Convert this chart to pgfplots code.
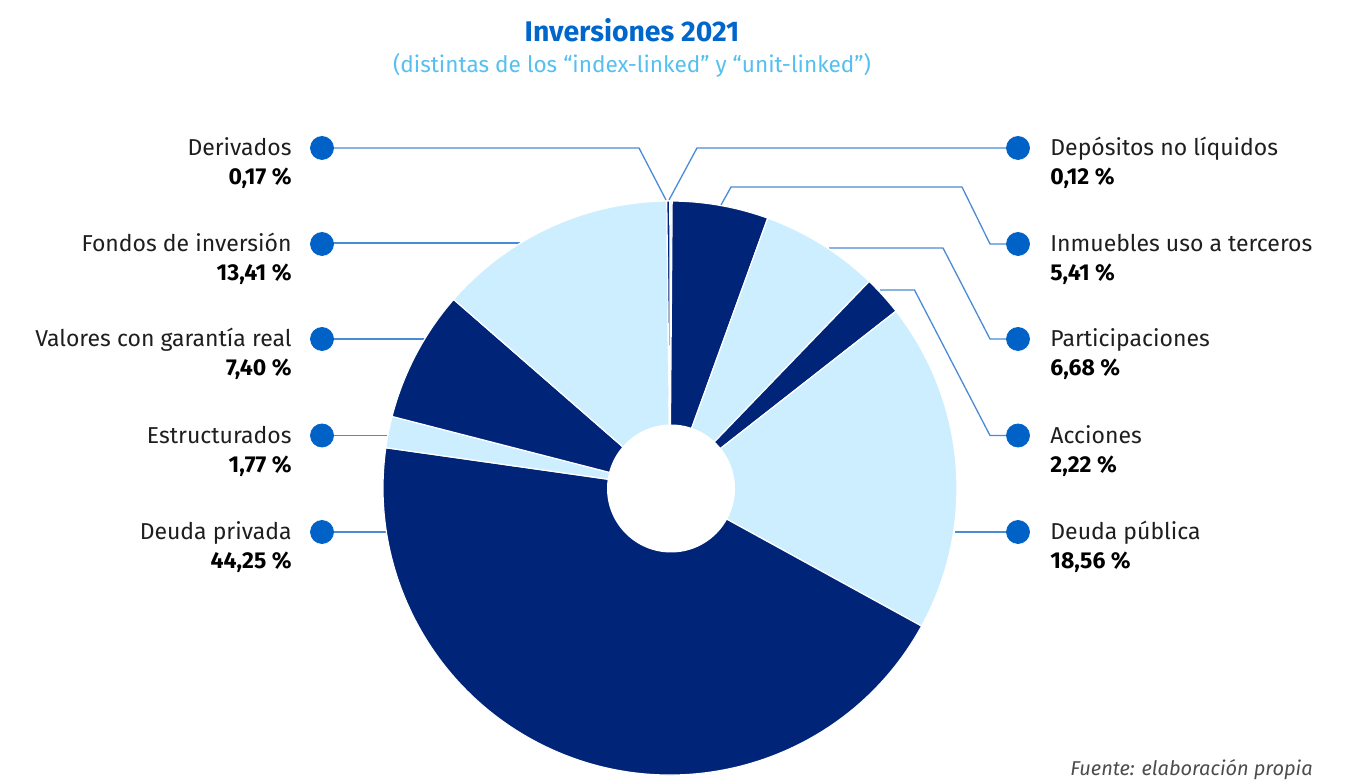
\documentclass[border=0pt]{standalone}
\usepackage{pgfplots}
\pgfplotsset{compat=1.18}
\usepackage{fontspec}
\setmainfont{Fira Sans}
\definecolor{navy}{HTML}{002478}
\definecolor{sky}{HTML}{CCEEFF}
\definecolor{dotblue}{HTML}{0062C6}
\definecolor{leadblue}{HTML}{4A8BD6}
\definecolor{titleblue}{HTML}{0066CC}
\definecolor{subblue}{HTML}{55BFF0}
\definecolor{labgray}{HTML}{1E1E1E}
\newcommand{\lab}{\fontsize{11.5}{14}\selectfont}

\begin{document}
\begin{tikzpicture}
\begin{axis}[x=0.5pt,y=0.5pt,xmin=0,xmax=1348,ymin=0,ymax=781,
  hide axis,clip=false,scale only axis]
\coordinate (BL) at (axis cs:0,0);
\coordinate (TR) at (axis cs:1348,781);

% lead lines
\pgfplotsset{lead/.style={leadblue,line width=0.65pt,sharp plot,no marks,solid}}
\addplot[lead] coordinates {(322,633) (639,633) (666,581)};
\addplot[lead] coordinates {(1018,633) (697,633) (669,581)};
\addplot[lead] coordinates {(1018,537) (990,537) (962,594) (731,594) (721,576)};
\addplot[lead] coordinates {(1018,442) (990,442) (943,533) (829,533)};
\addplot[lead] coordinates {(1018,345.5) (990,345.5) (914.5,491) (880,491)};
\addplot[lead] coordinates {(1018,249) (955,249)};
\addplot[lead] coordinates {(322,538) (520,538)};
\addplot[lead] coordinates {(322,442) (425,442)};
\addplot[lead] coordinates {(322,345.5) (388,345.5)};
\addplot[lead] coordinates {(322,249) (386,249)};

% donut, clockwise from the top
\gdef\cum{0}
\foreach \v/\c in {0.12/sky, 5.41/navy, 6.68/sky, 2.22/navy, 18.56/sky,
                   44.25/navy, 1.77/sky, 7.40/navy, 13.41/sky, 0.17/navy}{
  \pgfmathsetmacro\aone{90-3.6*\cum}
  \pgfmathsetmacro\atwo{90-3.6*(\cum+\v)}
  \pgfmathsetmacro\newcum{\cum+\v}
  \xdef\cum{\newcum}
  \edef\temp{\noexpand\filldraw[fill=\c,draw=white,line width=0.6pt]
    (axis cs:670,293) -- ++(\aone:143.5pt)
    arc[start angle=\aone,end angle=\atwo,radius=143.5pt] -- cycle;}
  \temp
}
\fill[white] (axis cs:671,292.5) circle[radius=32pt];

% dots
\addplot[only marks,mark=*,mark size=5.75pt,draw=none,
  mark options={draw=dotblue,fill=dotblue}] coordinates {
  (322,633) (322,537) (322,442) (322,345.5) (322,249)
  (1018,633) (1018,537) (1018,442) (1018,345.5) (1018,249)};

% labels right
\foreach \y/\n/\p in {633/Depósitos no líquidos/0{,}12,
                      537/Inmuebles uso a terceros/5{,}41,
                      442/Participaciones/6{,}68,
                      345.5/Acciones/2{,}22,
                      249/Deuda pública/18{,}56}{
  \edef\temp{\noexpand\node[anchor=base west,inner sep=0pt,text=labgray,font=\noexpand\lab]
    at (axis cs:1050,\y-8) {\n};
  \noexpand\node[anchor=base west,inner sep=0pt,font=\noexpand\lab\noexpand\bfseries]
    at (axis cs:1050,\y-37) {\p\space\noexpand\%};}
  \temp
}
% labels left
\foreach \y/\n/\p in {633/Derivados/0{,}17,
                      537/Fondos de inversión/13{,}41,
                      442/Valores con garantía real/7{,}40,
                      345.5/Estructurados/1{,}77,
                      249/Deuda privada/44{,}25}{
  \edef\temp{\noexpand\node[anchor=base east,inner sep=0pt,text=labgray,font=\noexpand\lab]
    at (axis cs:292,\y-8) {\n};
  \noexpand\node[anchor=base east,inner sep=0pt,font=\noexpand\lab\noexpand\bfseries]
    at (axis cs:292,\y-37) {\p\space\noexpand\%};}
  \temp
}

% titles
\node[anchor=base,inner sep=0pt,text=titleblue,font=\fontsize{14.2}{17}\selectfont\bfseries]
  at (axis cs:632,739) {Inversiones 2021};
\node[anchor=base,inner sep=0pt,text=subblue,font=\fontsize{11.3}{14}\selectfont]
  at (axis cs:632,708) {(distintas de los “index-linked” y “unit-linked”)};
\node[anchor=base east,inner sep=0pt,text=black!70,font=\fontsize{10}{12}\selectfont\itshape]
  at (axis cs:1313,6) {Fuente: elaboración propia};
\end{axis}
\pgfresetboundingbox
\path (BL) rectangle (TR);
\end{tikzpicture}
\end{document}
